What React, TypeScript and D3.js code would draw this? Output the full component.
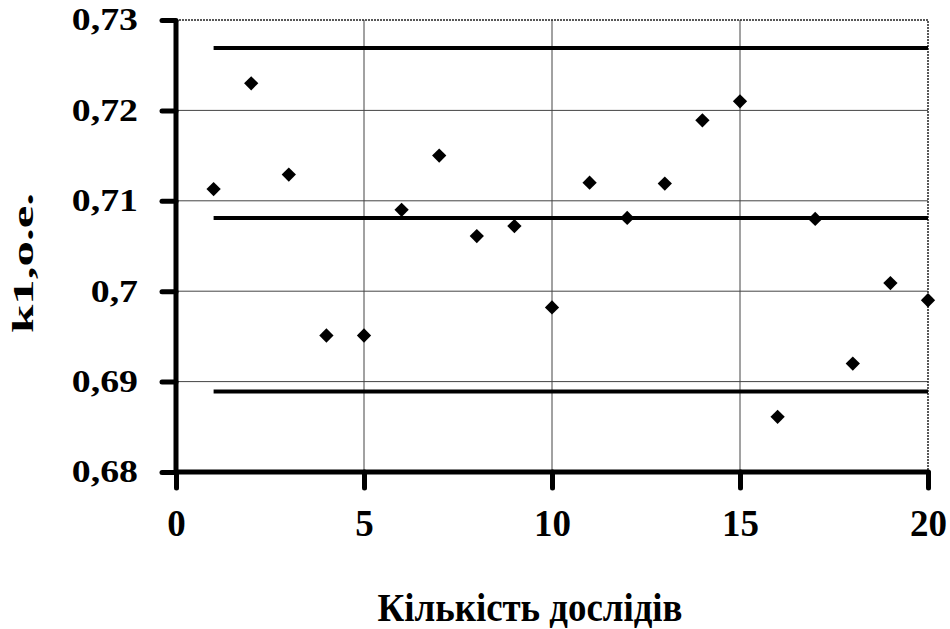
import React, { useEffect, useRef } from 'react';
import * as d3 from 'd3';

// measured values k1 for each experiment
const experiments = [1, 2, 3, 4, 5, 6, 7, 8, 9, 10, 11, 12, 13, 14, 15, 16, 17, 18, 19, 20];
const k1Values = [
  0.7113, 0.7230, 0.7129, 0.6951, 0.6951, 0.7090, 0.7150, 0.7061, 0.7072, 0.6982,
  0.7120, 0.7081, 0.7119, 0.7189, 0.7210, 0.6861, 0.7080, 0.6920, 0.7009, 0.6990,
];
// upper limit, mean, lower limit
const limitLevels = [0.7269, 0.7081, 0.6889];
const limitRange = [1, 20];
const xTicks = [0, 5, 10, 15, 20];
const yTicks = [0.68, 0.69, 0.7, 0.71, 0.72, 0.73];

// stretch a text element horizontally by a factor (scanned original looks wider)
const stretch = (sel: any, k: number) => {
  sel.each(function (this: SVGTextElement) {
    const w = this.getComputedTextLength();
    d3.select(this).attr('textLength', w * k).attr('lengthAdjust', 'spacingAndGlyphs');
  });
};

const App = () => {
  const svgRef = useRef<SVGSVGElement>(null);

  useEffect(() => {
    const svg = d3.select(svgRef.current);
    const width = 950;
    const height = 629;
    const margin = { top: 20, right: 22, bottom: 157, left: 176 };
    const font = '"Liberation Serif", "Times New Roman", serif';

    svg.selectAll('*').remove();

    const x = d3.scaleLinear()
      .domain([0, 20])
      .range([margin.left, width - margin.right]);

    const y = d3.scaleLinear()
      .domain([0.68, 0.73])
      .range([height - margin.bottom, margin.top]);

    const data = experiments.map((e, i) => ({ e, v: k1Values[i] }));

    // gridlines
    const grid = svg.append('g').attr('stroke', '#444').attr('stroke-width', 1);
    grid.selectAll('line.gy')
      .data(yTicks.filter(t => t > 0.68 && t < 0.73))
      .join('line')
        .attr('x1', x(0)).attr('x2', x(20))
        .attr('y1', d => y(d)).attr('y2', d => y(d));
    grid.selectAll('line.gx')
      .data(xTicks.filter(t => t > 0 && t < 20))
      .join('line')
        .attr('x1', d => x(d)).attr('x2', d => x(d))
        .attr('y1', y(0.68)).attr('y2', y(0.73));

    // dotted top and right border
    svg.append('path')
      .attr('d', `M${x(0)},${y(0.73)}H${x(20)}V${y(0.68)}`)
      .attr('fill', 'none')
      .attr('stroke', '#222')
      .attr('stroke-width', 1.5)
      .attr('stroke-dasharray', '2,1');

    // limit lines
    svg.append('g')
      .selectAll('line')
      .data(limitLevels)
      .join('line')
        .attr('x1', x(limitRange[0])).attr('x2', x(limitRange[1]))
        .attr('y1', d => y(d)).attr('y2', d => y(d))
        .attr('stroke', '#000')
        .attr('stroke-width', 4);

    // axes
    const yAxis = svg.append('g')
      .attr('transform', `translate(${margin.left},0)`)
      .call(d3.axisLeft(y).tickValues(yTicks).tickSize(14).tickPadding(24)
        .tickFormat(d => String(+d).replace('.', ',')));
    const xAxis = svg.append('g')
      .attr('transform', `translate(0,${height - margin.bottom})`)
      .call(d3.axisBottom(x).tickValues(xTicks).tickSize(16).tickPadding(22));

    [yAxis, xAxis].forEach(a => {
      a.select('.domain').attr('stroke', '#000').attr('stroke-width', 5);
      a.selectAll('.tick line').attr('stroke', '#000').attr('stroke-width', 5)
        .attr('stroke-linecap', 'round');
      a.selectAll('text').attr('fill', '#000').attr('font-family', font)
        .attr('font-weight', 'bold');
    });
    yAxis.select('.domain').attr('d', `M0,${y(0.73)}V${y(0.68)}`);
    xAxis.select('.domain').attr('d', `M${x(0)},0H${x(20)}`);
    yAxis.selectAll('text').attr('font-size', 31);
    stretch(yAxis.selectAll('text'), 1.22);
    xAxis.selectAll('text').attr('font-size', 37);

    // points
    svg.append('g')
      .selectAll('path')
      .data(data)
      .join('path')
        .attr('transform', d => `translate(${x(d.e)},${y(d.v)})`)
        .attr('d', d3.symbol(d3.symbolDiamond2, 130))
        .attr('fill', '#000');

    // axis titles
    svg.append('text')
      .attr('x', 530)
      .attr('y', 621)
      .attr('text-anchor', 'middle')
      .attr('font-family', font)
      .attr('font-weight', 'bold')
      .attr('font-size', 39)
      .attr('textLength', 305)
      .attr('lengthAdjust', 'spacingAndGlyphs')
      .text('Кількість дослідів');

    svg.append('text')
      .attr('transform', `translate(33,263) rotate(-90)`)
      .attr('text-anchor', 'middle')
      .attr('font-family', font)
      .attr('font-weight', 'bold')
      .attr('font-size', 30)
      .attr('textLength', 140)
      .attr('lengthAdjust', 'spacingAndGlyphs')
      .text('k1,o.e.');
  }, []);

  return (
    <svg ref={svgRef} width="950" height="629"
      style={{ position: 'absolute', left: 0, top: 0, background: '#fff' }} />
  );
};

export default App;
